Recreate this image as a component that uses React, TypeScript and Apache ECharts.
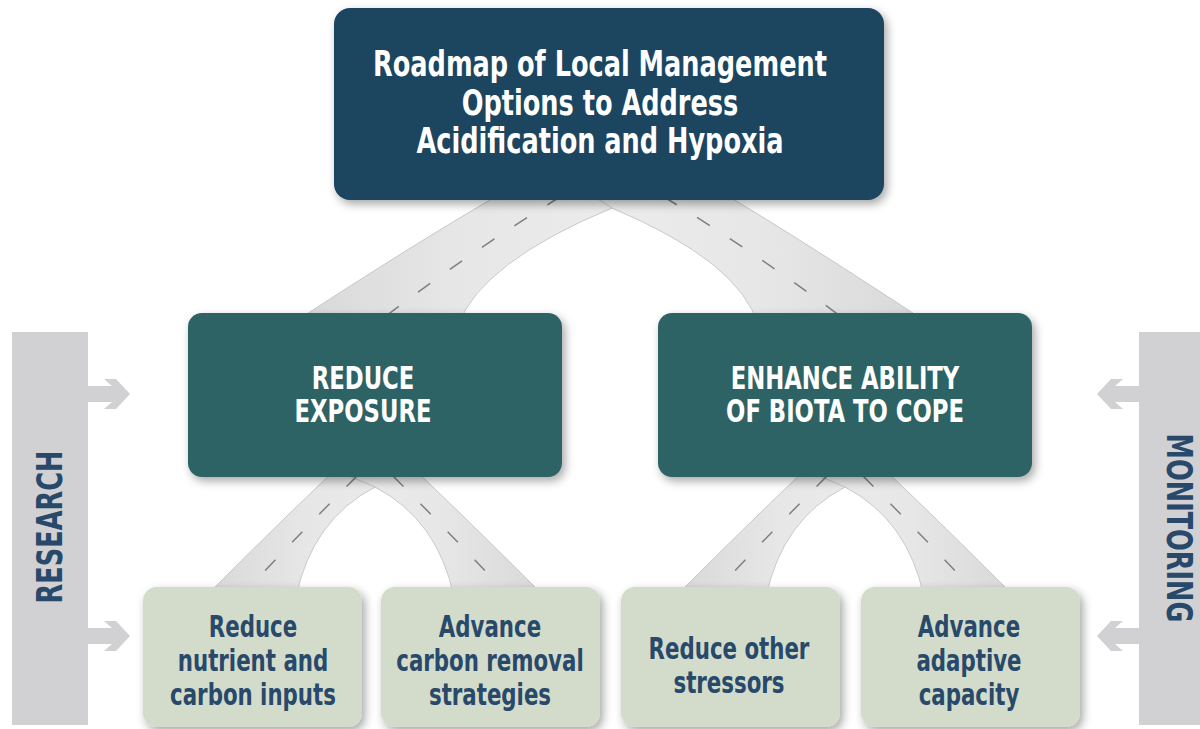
import React, { useEffect, useRef } from "react";
import * as echarts from "echarts";

// ---- content ----
const TITLE_LINES = ["Roadmap of Local Management", "Options to Address", "Acidification and Hypoxia"];
const STRATEGIES = [
  ["REDUCE", "EXPOSURE"],
  ["ENHANCE ABILITY", "OF BIOTA TO COPE"],
];
const ACTIONS = [
  ["Reduce", "nutrient and", "carbon inputs"],
  ["Advance", "carbon removal", "strategies"],
  ["Reduce other", "stressors"],
  ["Advance", "adaptive", "capacity"],
];
const SIDE_LABELS = ["RESEARCH", "MONITORING"];

// ---- styles ----
const FONT = "'DejaVu Sans Condensed', 'DejaVu Sans', 'Roboto', sans-serif";
const NARROW = 0.79; // horizontal squeeze to imitate a condensed face
const C_TOP = "#1f4461";
const C_MID = "#2e6366";
const C_LOW = "#d3dccb";
const C_TEXT_DARK = "#28496a";
const C_BAR = "#d1d1d3";
const C_ROAD_EDGE = "#c8c8c8";
const C_DASH = "#7f7f7f";

const SHADOW = {
  shadowBlur: 10,
  shadowOffsetX: 3,
  shadowOffsetY: 4,
  shadowColor: "rgba(0,0,0,0.35)",
};

function registerRoads() {
  const roads: Record<string, string> = {
    roadTopL: "M 290 325 Q 412 245 507 190 L 640 190 L 612 208 Q 482 262 458 325 Z",
    roadTopR: "M 931 325 Q 810 245 718 190 L 584 190 L 612 208 Q 740 262 758 325 Z",
  };
  const apexes = [375, 845];
  apexes.forEach((ax, i) => {
    roads["roadLowL" + i] = `M ${ax - 170} 597 Q ${ax - 95} 522 ${ax - 40} 470 L ${ax + 40} 470 L ${ax} 487 Q ${ax - 63} 520 ${ax - 79} 597 Z`;
    roads["roadLowR" + i] = `M ${ax + 170} 597 Q ${ax + 95} 522 ${ax + 40} 470 L ${ax - 40} 470 L ${ax} 487 Q ${ax + 63} 520 ${ax + 79} 597 Z`;
  });
  Object.keys(roads).forEach((k) => {
    echarts.graphic.registerShape(k, echarts.graphic.extendPath(roads[k], {}));
  });
  return Object.keys(roads);
}

function roadFill(left: boolean) {
  return {
    type: "linear",
    x: 0,
    y: 0,
    x2: 1,
    y2: 0,
    colorStops: left
      ? [
          { offset: 0, color: "#d8d8d8" },
          { offset: 0.5, color: "#e7e7e7" },
          { offset: 1, color: "#ececec" },
        ]
      : [
          { offset: 0, color: "#ececec" },
          { offset: 0.5, color: "#e7e7e7" },
          { offset: 1, color: "#d8d8d8" },
        ],
  };
}

function dash(x1: number, y1: number, cx: number, cy: number, x2: number, y2: number) {
  return {
    type: "bezierCurve",
    z: 2,
    shape: { x1, y1, cpx1: cx, cpy1: cy, x2, y2 },
    style: { stroke: C_DASH, lineWidth: 1.5, lineDash: [15, 24], fill: null },
  };
}

function arrow(cy: number, mirror: boolean) {
  const pts = [
    [88, cy - 8],
    [112, cy - 8],
    [104, cy - 15],
    [116, cy - 15],
    [130, cy],
    [116, cy + 15],
    [104, cy + 15],
    [112, cy + 8],
    [88, cy + 8],
  ].map(([x, y]) => [mirror ? 1227 - x : x, y]);
  return { type: "polygon", z: 1, shape: { points: pts }, style: { fill: C_BAR } };
}

function textLine(text: string, x: number, y: number, size: number, color: string, rotation = 0) {
  return {
    type: "text",
    z: 5,
    x,
    y,
    rotation,
    scaleX: NARROW,
    style: {
      text,
      fill: color,
      fontFamily: FONT,
      fontWeight: "bold",
      fontSize: size,
      align: "center",
      verticalAlign: "middle",
    },
  };
}

export default function App() {
  const ref = useRef<HTMLDivElement>(null);

  useEffect(() => {
    if (!ref.current) return;
    const chart = echarts.init(ref.current, null, { renderer: "svg" });
    const roadNames = registerRoads();

    const elements: any[] = [];

    // roads
    roadNames.forEach((name) => {
      const left = /roadTopL|roadLowL/.test(name);
      elements.push({
        type: name,
        z: 1,
        style: { fill: roadFill(left), stroke: C_ROAD_EDGE, lineWidth: 1 },
      });
    });

    // dashed centre lines
    elements.push(dash(560, 197, 470, 252, 378, 322));
    elements.push(dash(664, 197, 755, 252, 848, 322));
    [375, 845].forEach((ax) => {
      elements.push(dash(ax - 18, 476, ax - 70, 528, ax - 130, 592));
      elements.push(dash(ax + 18, 476, ax + 70, 528, ax + 130, 592));
    });

    // side bars
    elements.push({ type: "rect", z: 1, shape: { x: 12, y: 332, width: 76, height: 393 }, style: { fill: C_BAR } });
    elements.push({ type: "rect", z: 1, shape: { x: 1139, y: 332, width: 70, height: 393 }, style: { fill: C_BAR } });
    elements.push(arrow(394, false), arrow(636, false), arrow(394, true), arrow(636, true));
    elements.push(textLine(SIDE_LABELS[0], 50, 527, 36, C_TEXT_DARK, Math.PI / 2));
    elements.push(textLine(SIDE_LABELS[1], 1179, 528, 36, C_TEXT_DARK, -Math.PI / 2));

    // top box
    elements.push({
      type: "rect",
      z: 3,
      shape: { x: 334, y: 8, width: 550, height: 192, r: 16 },
      style: { fill: C_TOP, ...SHADOW },
    });
    TITLE_LINES.forEach((t, i) => elements.push(textLine(t, 600, 64 + i * 38.5, 36, "#ffffff")));

    // middle boxes
    const midX = [188, 658];
    const midTextX = [363, 845];
    STRATEGIES.forEach((lines, k) => {
      elements.push({
        type: "rect",
        z: 3,
        shape: { x: midX[k], y: 313, width: 374, height: 164, r: 14 },
        style: { fill: C_MID, ...SHADOW },
      });
      lines.forEach((t, i) => elements.push(textLine(t, midTextX[k], 378 + i * 32.5, 32, "#ffffff")));
    });

    // bottom boxes
    const lowX = [143, 381, 621, 861];
    const lowCX = [253, 490, 729, 969];
    ACTIONS.forEach((lines, k) => {
      elements.push({
        type: "rect",
        z: 3,
        shape: { x: lowX[k], y: 587, width: 219, height: 140, r: 14 },
        style: { fill: C_LOW, ...SHADOW },
      });
      const startY = lines.length === 3 ? 626 : 648;
      lines.forEach((t, i) => elements.push(textLine(t, lowCX[k], startY + i * 34, 30, C_TEXT_DARK)));
    });

    chart.setOption({
      animation: false,
      backgroundColor: "#ffffff",
      graphic: { elements },
    });

    return () => chart.dispose();
  }, []);

  return (
    <div
      ref={ref}
      style={{ position: "fixed", left: 0, top: 0, width: 1200, height: 729 }}
    />
  );
}
